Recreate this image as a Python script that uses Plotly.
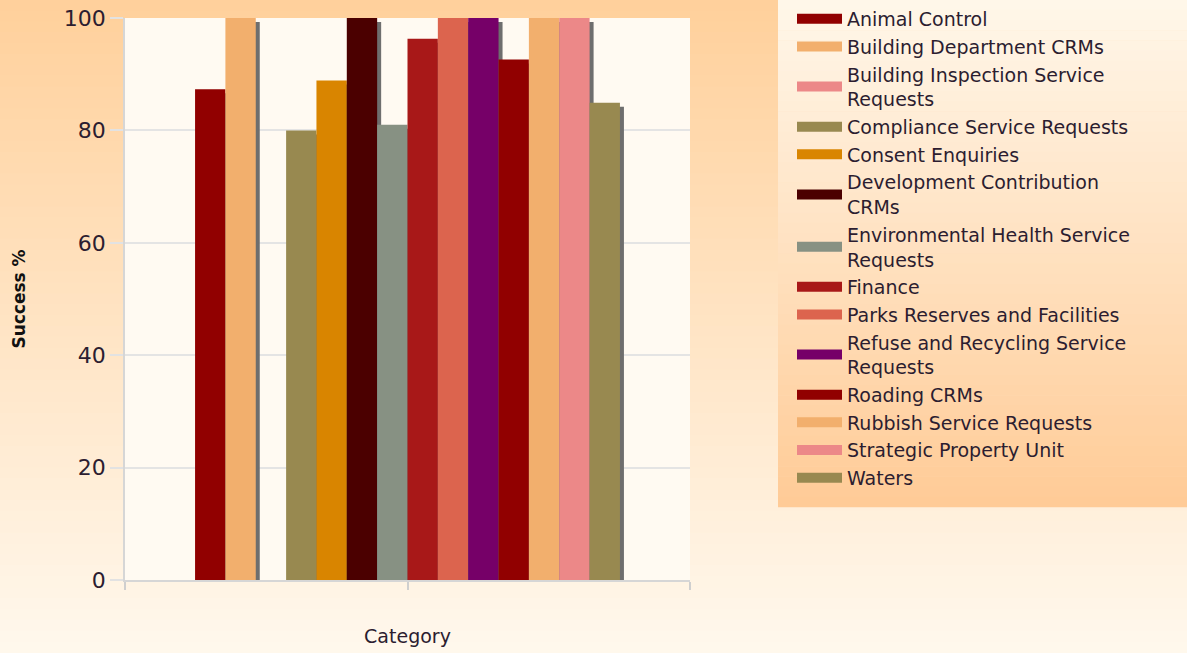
import plotly.graph_objects as go

# ---------------- data ----------------
categories = [0]
series_names = [
    "Animal Control",
    "Building Department CRMs",
    "Building Inspection Service<br>Requests",
    "Compliance Service Requests",
    "Consent Enquiries",
    "Development Contribution<br>CRMs",
    "Environmental Health Service<br>Requests",
    "Finance",
    "Parks Reserves and Facilities",
    "Refuse and Recycling Service<br>Requests",
    "Roading CRMs",
    "Rubbish Service Requests",
    "Strategic Property Unit",
    "Waters",
]
series_values = [87.3, 100, None, 80, 88.9, 100, 81, 96.3, 100, 100, 92.6, 100, 100, 84.9]
series_colors = [
    "#910000", "#F2AF6D", "#EC8888", "#988950", "#D98500", "#4B0000", "#879183",
    "#A81818", "#DC644E", "#760068", "#910000", "#F2AF6D", "#EC8888", "#988950",
]
y_ticks = [0, 20, 40, 60, 80, 100]

# ---------------- geometry / style ----------------
W, H = 1187, 653
ML, MR, MT, MB = 125, 497, 18, 73
PW, PH = W - ML - MR, H - MT - MB
SHADOW = "#6E6E6E"
FONT = "DejaVu Sans"
TXT = "#2c1d30"
dx = 4.0 / PW          # 4 px shadow offset (x)
dy = 4.0 * 100 / PH    # 4 px shadow offset (y)

fig = go.Figure()

# shadows (drawn on underlying subplot, shifted)
for v in series_values:
    fig.add_trace(go.Bar(
        x=categories, y=[v], marker=dict(color=SHADOW, line=dict(width=0)),
        xaxis="x", yaxis="y", showlegend=False, hoverinfo="skip", cliponaxis=False,
    ))

# real bars
for i, (name, v, c) in enumerate(zip(series_names, series_values, series_colors)):
    fig.add_trace(go.Bar(
        x=categories, y=[v], name=name, marker=dict(color=c, line=dict(width=0)),
        xaxis="x2", yaxis="y2", legendgroup="g%d" % i, showlegend=False,
        hovertemplate=name.replace("<br>", " ") + ": %{y}<extra></extra>",
    ))

# legend swatches (wide rectangular keys)
for i, (name, c) in enumerate(zip(series_names, series_colors)):
    fig.add_trace(go.Scatter(
        x=[None], y=[None], mode="lines", name=name,
        line=dict(color=c, width=17), xaxis="x2", yaxis="y2",
        legendgroup="g%d" % i, showlegend=True, hoverinfo="skip",
    ))

# background gradients
shapes = []
N = 60
top = (255, 208, 155)
bot = (255, 248, 237)
for i in range(N):
    t = (i + 0.5) / N
    col = tuple(round(top[k] + (bot[k] - top[k]) * t) for k in range(3))
    y0p = i * H / N
    y1p = (i + 1) * H / N
    shapes.append(dict(
        type="rect", xref="paper", yref="paper", layer="below",
        x0=-ML / PW - 0.01, x1=1 + MR / PW + 0.01,
        y0=(H - MB - y0p) / PH + 0.001, y1=(H - MB - y1p) / PH - 0.001,
        fillcolor="rgb(%d,%d,%d)" % col, line=dict(width=0),
    ))
# legend box gradient
LX0, LX1, LY0, LY1 = 778, 1187, 0, 507
lt = (255, 247, 234)
lb = (255, 203, 150)
NL = 50
for i in range(NL):
    t = (i + 0.5) / NL
    col = tuple(round(lt[k] + (lb[k] - lt[k]) * t) for k in range(3))
    y0p = LY0 + i * (LY1 - LY0) / NL
    y1p = LY0 + (i + 1) * (LY1 - LY0) / NL
    shapes.append(dict(
        type="rect", xref="paper", yref="paper", layer="below",
        x0=(LX0 - ML) / PW, x1=(LX1 - ML) / PW + 0.01,
        y0=(H - MB - y0p) / PH + 0.0005, y1=(H - MB - y1p) / PH - 0.0005,
        fillcolor="rgb(%d,%d,%d)" % col, line=dict(width=0),
    ))
# plot area background
shapes.append(dict(type="rect", xref="paper", yref="paper", layer="below",
                   x0=0, x1=1, y0=0, y1=1, fillcolor="#FFFAF2", line=dict(width=0)))

fig.update_layout(
    width=W, height=H,
    margin=dict(l=ML, r=MR, t=MT, b=MB, pad=0, autoexpand=False),
    paper_bgcolor="#FFF5E8",
    plot_bgcolor="rgba(0,0,0,0)",
    barmode="group", bargap=0.248, bargroupgap=0,
    font=dict(family=FONT, color=TXT),
    shapes=shapes,
    showlegend=True,
    legend=dict(
        x=792 / W, xanchor="left", xref="container",
        y=1.0, yanchor="top", yref="container",
        bgcolor="rgba(0,0,0,0)", borderwidth=0,
        font=dict(family=FONT, size=19, color=TXT),
        itemwidth=45, traceorder="normal", maxheight=640,
    ),
    xaxis=dict(visible=False, range=[-0.5 - dx, 0.5 - dx], fixedrange=True),
    yaxis=dict(visible=False, range=[0 + dy, 100 + dy], fixedrange=True),
    xaxis2=dict(
        overlaying="x", anchor="y2", range=[-0.5, 0.5],
        tickvals=[-0.5, 0, 0.5], ticktext=["", "", ""],
        ticks="outside", ticklen=8, tickcolor="#CFCFCF", tickwidth=1.5,
        showline=True, linecolor="#D6D6D6", linewidth=1.5,
        showgrid=False, zeroline=False,
        title=dict(text="Category", font=dict(family=FONT, size=19, color=TXT), standoff=39),
    ),
    yaxis2=dict(
        overlaying="y", anchor="x2", side="left", range=[0, 100],
        tickvals=y_ticks,
        ticks="outside", ticklen=13, tickcolor="#E2E2E2", tickwidth=1.5,
        showline=True, linecolor="#D6D6D6", linewidth=1.5,
        showgrid=True, gridcolor="#E4E4E4", gridwidth=1.5, zeroline=False,
        tickfont=dict(family=FONT, size=22, color=TXT),
        title=dict(text="<b>Success %</b>", font=dict(family=FONT, size=17, color="#111111"), standoff=34),
    ),
)

fig.write_html("out.html")
